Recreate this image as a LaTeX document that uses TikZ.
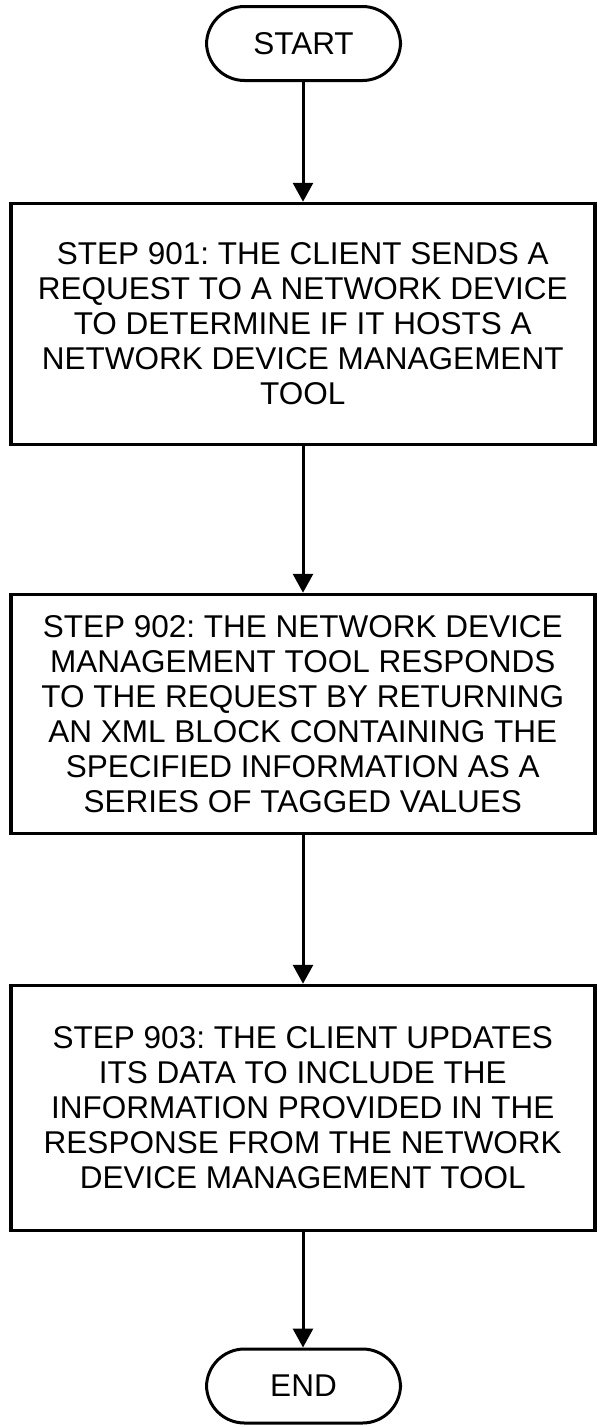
\documentclass[tikz,border=0pt]{standalone}
\usepackage{fontspec}
\setmainfont{Liberation Sans}
\usetikzlibrary{arrows.meta}
\frenchspacing
\begin{document}
\begin{tikzpicture}[x=1pt,y=-1pt,
  terminal/.style={draw,line width=3pt,rounded corners=38pt,minimum width=194pt,minimum height=74pt,inner sep=0pt,
    font=\fontsize{31.5pt}{35pt}\selectfont},
  stepbox/.style={draw,line width=3.5pt,minimum width=584pt,minimum height=#1,inner sep=0pt,align=center,
    font=\fontsize{31.5pt}{35pt}\selectfont},
  flow/.style={line width=3pt,-{Triangle[length=19pt,width=20pt]}}]
\useasboundingbox (0,0) rectangle (600,1427);
% terminals and process steps, top to bottom
\node[terminal] (start) at (303.5,43.5) {START};
\node[stepbox=241pt] (s901) at (302.75,324) {STEP 901: THE CLIENT SENDS A\\REQUEST TO A NETWORK DEVICE\\TO DETERMINE IF IT HOSTS A\\NETWORK DEVICE MANAGEMENT\\TOOL};
\node[stepbox=239pt] (s902) at (302.75,714) {STEP 902: THE NETWORK DEVICE\\MANAGEMENT TOOL RESPONDS\\TO THE REQUEST BY RETURNING\\AN XML BLOCK CONTAINING THE\\SPECIFIED INFORMATION AS A\\SERIES OF TAGGED VALUES};
\node[stepbox=245pt] (s903) at (302.75,1108) {STEP 903: THE CLIENT UPDATES\\ITS DATA TO INCLUDE THE\\INFORMATION PROVIDED IN THE\\RESPONSE FROM THE NETWORK\\DEVICE MANAGEMENT TOOL};
\node[terminal] (end) at (303.5,1386) {END};
% vertical connectors along the common axis
\draw[flow] (start.south -| 303,0) -- (s901.north -| 303,0);
\draw[flow] (s901.south -| 303,0) -- (s902.north -| 303,0);
\draw[flow] (s902.south -| 303,0) -- (s903.north -| 303,0);
\draw[flow] (s903.south -| 303,0) -- (end.north -| 303,0);
\end{tikzpicture}
\end{document}
